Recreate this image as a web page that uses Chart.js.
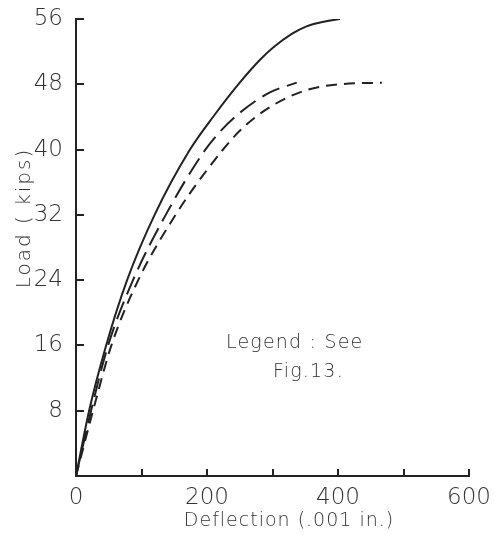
<!DOCTYPE html>
<html>
<head>
<meta charset="utf-8">
<script src="https://cdn.jsdelivr.net/npm/chart.js@4"></script>
<style>
  html, body { margin: 0; padding: 0; background: #fff; }
  #wrap { width: 504px; height: 535px; }
</style>
</head>
<body>
<div id="wrap"><canvas id="chart1" width="504" height="535"></canvas></div>
<script>
// load-deflection curves (deflection in .001 in., load in kips)
let solidX = [0, 20, 46, 78, 120, 174, 212, 250, 281, 301, 330, 352, 380, 403];
let solidY = [0, 8, 16, 24, 32, 40, 44.3, 48.2, 51, 52.5, 54.2, 55.1, 55.7, 56];

let longDashX = [0, 23, 49, 87, 137, 194, 220, 250, 296, 337];
let longDashY = [0, 8, 16, 24, 32, 39.6, 42.2, 44.5, 47, 48.2];

let shortDashX = [0, 26, 54, 95, 152, 200, 250, 296, 352, 403, 467];
let shortDashY = [0, 8, 16, 24, 32, 37.5, 42.3, 45.2, 47.3, 48, 48.2];

let xTicks = [0, 100, 200, 300, 400, 500, 600];
let yTicks = [0, 8, 16, 24, 32, 40, 48, 56];
let xLabels = ['0', '', '200', '', '400', '', '600'];

let inkColor = '#222';
let textColor = '#333';
let fontFamily = '"DejaVu Sans", sans-serif';

function toPoints(xs, ys) {
    return xs.map((x, i) => ({ x: x, y: ys[i] }));
}

// short inward ticks + free text (axis titles, legend note)
const decorations = {
    id: 'decorations',
    afterDraw(chart) {
        const ctx = chart.ctx;
        const xs = chart.scales.x;
        const ys = chart.scales.y;
        const area = chart.chartArea;
        ctx.save();
        ctx.strokeStyle = inkColor;
        ctx.lineWidth = 2;
        ctx.beginPath();
        xTicks.forEach(v => {
            if (v === 0) return;
            const px = Math.round(xs.getPixelForValue(v));
            ctx.moveTo(px, area.bottom);
            ctx.lineTo(px, area.bottom - 7);
        });
        yTicks.forEach(v => {
            if (v === 0) return;
            const py = Math.round(ys.getPixelForValue(v));
            ctx.moveTo(area.left, py);
            ctx.lineTo(area.left + 8, py);
        });
        ctx.stroke();

        ctx.fillStyle = textColor;
        ctx.textBaseline = 'middle';
        ctx.textAlign = 'center';
        ctx.font = '200 19px ' + fontFamily;
        ctx.letterSpacing = '1px';
        ctx.fillText('Deflection (.001 in.)', 289, 521);

        ctx.save();
        ctx.translate(25, 218);
        ctx.rotate(-Math.PI / 2);
        ctx.font = '200 20px ' + fontFamily;
        ctx.letterSpacing = '2px';
        ctx.fillText('Load ( kips)', 0, 0);
        ctx.restore();

        ctx.font = '200 19px ' + fontFamily;
        ctx.letterSpacing = '1.2px';
        ctx.textAlign = 'left';
        ctx.textBaseline = 'alphabetic';
        ctx.fillText('Legend : See', 226, 348);
        ctx.fillText('Fig.13.', 273, 377);
        ctx.restore();
    }
};

const chart1 = document.getElementById('chart1').getContext('2d');

new Chart(chart1, {
    type: 'scatter',
    data: {
        datasets: [
            {
                data: toPoints(solidX, solidY),
                showLine: true,
                borderColor: inkColor,
                borderWidth: 2,
                pointRadius: 0,
                cubicInterpolationMode: 'monotone'
            },
            {
                data: toPoints(longDashX, longDashY),
                showLine: true,
                borderColor: inkColor,
                borderWidth: 2,
                borderDash: [19, 8],
                pointRadius: 0,
                cubicInterpolationMode: 'monotone'
            },
            {
                data: toPoints(shortDashX, shortDashY),
                showLine: true,
                borderColor: inkColor,
                borderWidth: 2,
                borderDash: [11, 7],
                pointRadius: 0,
                cubicInterpolationMode: 'monotone'
            }
        ]
    },
    options: {
        responsive: false,
        animation: false,
        layout: {
            padding: { top: 19, right: 35, left: 0, bottom: 0 }
        },
        scales: {
            x: {
                type: 'linear',
                min: 0,
                max: 600,
                afterBuildTicks: scale => { scale.ticks = xTicks.map(v => ({ value: v })); },
                afterFit: scale => { scale.height = 59; },
                grid: { display: false },
                border: { display: true, color: inkColor, width: 2 },
                ticks: {
                    color: textColor,
                    font: { family: fontFamily, size: 23, weight: 200 },
                    padding: 0,
                    maxRotation: 0,
                    autoSkip: false,
                    callback: (v, i) => xLabels[i]
                }
            },
            y: {
                type: 'linear',
                min: 0,
                max: 56,
                afterBuildTicks: scale => { scale.ticks = yTicks.map(v => ({ value: v })); },
                afterFit: scale => { scale.width = 76; },
                grid: { display: false },
                border: { display: true, color: inkColor, width: 2 },
                ticks: {
                    color: textColor,
                    font: { family: fontFamily, size: 23, weight: 200 },
                    padding: 5,
                    autoSkip: false,
                    callback: v => (v === 0 ? '' : String(v))
                }
            }
        },
        plugins: {
            legend: { display: false },
            tooltip: { enabled: false }
        }
    },
    plugins: [decorations]
});
</script>
</body>
</html>
